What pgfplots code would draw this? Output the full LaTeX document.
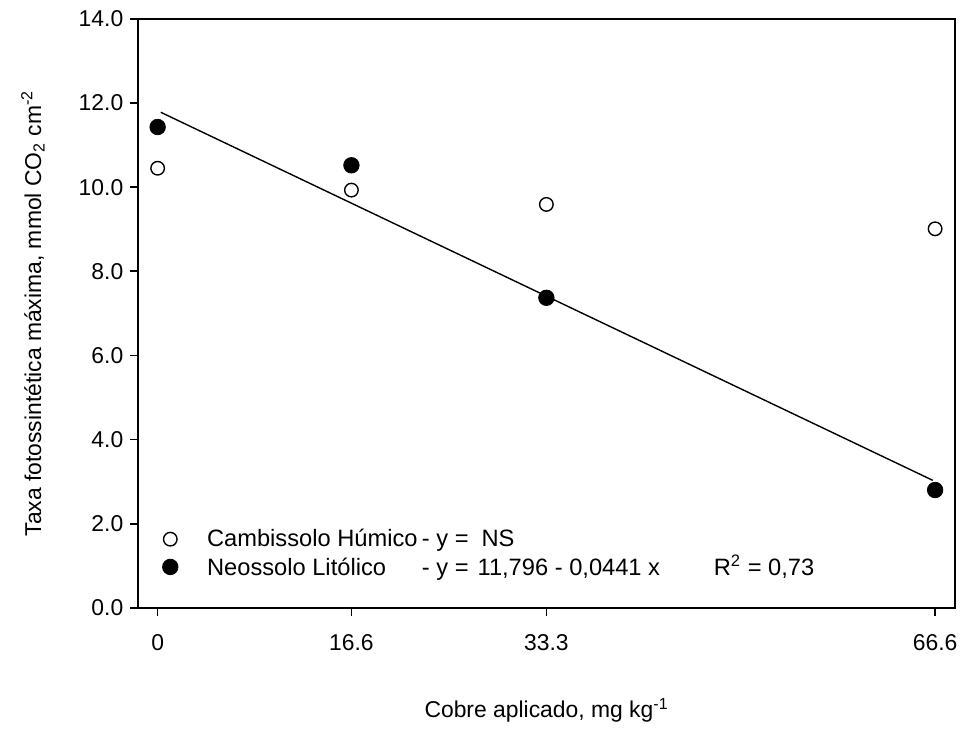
\documentclass[border=0pt]{standalone}
\usepackage{pgfplots}
\pgfplotsset{compat=1.18}
\usepackage{fontspec}
\setmainfont{Liberation Sans}
\newcommand\fs{\fontsize{11.5}{13.8}\selectfont}
\newcommand\lfs{\fontsize{11.9}{14.2}\selectfont}
\begin{document}
\begin{tikzpicture}
\begin{axis}[
    scale only axis, width=410.5pt, height=296pt,
    xmin=-1.66, xmax=68.3, ymin=0, ymax=14,
    xtick={0,16.6,33.3,66.6}, xticklabels={0,16.6,33.3,66.6},
    ytick={0,2,...,14},
    yticklabel style={/pgf/number format/.cd, fixed, fixed zerofill, precision=1},
    /pgf/number format/assume math mode=true,
    tick pos=left, tick align=outside, major tick length=4pt,
    axis line style={line width=0.85pt}, every tick/.style={black, line width=0.85pt},
    tick label style={font=\fs},
    xticklabel style={yshift=-6pt},
    label style={font=\fs},
    xlabel={Cobre aplicado, mg kg\textsuperscript{-1}},
    ylabel={Taxa fotossintética máxima, mmol CO\textsubscript{2} cm\textsuperscript{-2}},
    xlabel style={at={(axis description cs:0.5,-0.174)}, anchor=center},
    ylabel style={at={(axis description cs:-0.129,0.5)}, anchor=center},
    clip=false,
    legend cell align=left,
    legend style={draw=none, fill=none, font=\lfs, nodes={font=\lfs}, at={(axis description cs:0.0,0.0)}, anchor=south west,
      row sep=-1pt, inner sep=0pt, xshift=12pt, yshift=12.5pt},
    legend image code/.code={\draw[#1] plot coordinates {(0.3cm,0cm)}; \path[draw=none] (0.3cm,0cm) -- ++(16.5pt,0pt);},
]
  % Cambissolo Humico (open)
  \addplot[only marks, mark=*, mark size=3.4pt, mark options={fill=white, draw=black, line width=0.7pt}]
    coordinates {(0,10.45) (16.6,9.93) (33.3,9.59) (66.6,9.01)};
  \addlegendentry{\makebox[108pt][l]{Cambissolo Húmico}- y =\hspace{6.5pt}NS}
  % Neossolo Litolico (filled)
  \addplot[only marks, mark=*, mark size=3.9pt, mark options={fill=black, draw=black}]
    coordinates {(0,11.43) (16.6,10.52) (33.3,7.37) (66.6,2.80)};
  \addlegendentry{\makebox[108pt][l]{Neossolo Litólico}- y =\hspace{4.5pt}11,796 - 0,0441 x\hspace{27pt}R\textsuperscript{2} = 0,73}
  % fitted line
  \addplot[black, line width=0.7pt, forget plot] coordinates {(0.27,11.78) (66.4,3.03)};
  \path (axis description cs:-0.1693,-0.1926) rectangle (axis description cs:1.0049,1.0321);
\end{axis}
\end{tikzpicture}
\end{document}
